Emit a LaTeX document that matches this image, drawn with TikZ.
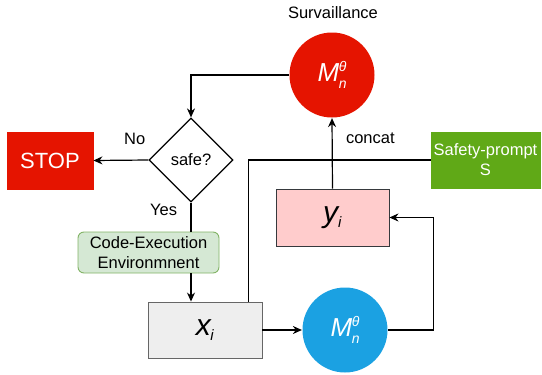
\documentclass[tikz,border=0pt]{standalone}
\usepackage{fontspec}
\setmainfont{Liberation Sans}
\usetikzlibrary{shapes.geometric,arrows.meta}

\definecolor{stopred}{HTML}{E51400}
\definecolor{safegreen}{HTML}{60A917}
\definecolor{envfill}{HTML}{D5E8D4}
\definecolor{envline}{HTML}{82B366}
\definecolor{blockgray}{HTML}{EEEEEE}
\definecolor{blockline}{HTML}{666666}
\definecolor{yfill}{HTML}{FFCCCC}
\definecolor{yline}{HTML}{36393D}
\definecolor{modelblue}{HTML}{1BA1E2}

\newcommand{\modelname}{\textit{M}\kern-0.5pt\rlap{\raisebox{-0.5ex}{\fontsize{14}{14}\selectfont\textit{n}}}\raisebox{0.7ex}{\fontsize{14}{14}\selectfont\textit{θ}}}
\newcommand{\seqvar}[1]{\textit{#1}\kern-1.5pt\raisebox{-0.3ex}{\fontsize{15}{15}\selectfont\textit{i}}}

\begin{document}
\begin{tikzpicture}[x=1pt, y=-1pt, >={Stealth[length=9pt,width=8pt]}, line width=1.2pt,
  every node/.style={font=\fontsize{16.5}{20}\selectfont, align=center},
  model/.style={circle, minimum size=85pt, inner sep=0pt, text=white, font=\fontsize{26}{26}\selectfont},
  block/.style={draw, rectangle, inner sep=0pt, line width=0.9pt}]
  \useasboundingbox (0,0) rectangle (542,375);

  \node (survlabel) at (333,13) {Survaillance};
  \node[model, fill=stopred] (judge) at (332,75) {\modelname};
  \node[draw, diamond, aspect=1, minimum size=84pt, inner sep=0pt] (safe) at (191,160) {safe?};
  \node[block, draw=stopred, fill=stopred, text=white, minimum width=86pt, minimum height=57pt,
        font=\fontsize{22}{22}\selectfont] (stop) at (50,160.5) {STOP};
  \node[block, draw=envline, fill=envfill, rounded corners=6pt, minimum width=141pt, minimum height=41pt] (env) at (148.5,252.5) {Code-Execution\\Environmnent};
  \node[block, draw=blockline, fill=blockgray, minimum width=114pt, minimum height=56pt,
        font=\fontsize{30}{30}\selectfont] (xi) at (205,330) {\seqvar{x}};
  \node[block, draw=yline, fill=yfill, minimum width=113pt, minimum height=57pt,
        font=\fontsize{30}{30}\selectfont] (yi) at (332.5,217.5) {\seqvar{y}};
  \node[block, draw=safegreen, fill=safegreen, text=white, minimum width=109pt, minimum height=56pt] (safety) at (485.5,160) {Safety-prompt\\S};
  \node[model, fill=modelblue] (coder) at (345,330) {\modelname};

  \draw[->] (judge.west) -| (safe.north);
  \draw[->] (safe.west) -- node[pos=0.25, above=12pt] {No} (stop.east);
  \draw (safe.south) -- node[pos=0.25, left=10pt] {Yes} (safe.south |- env.north);
  \draw[->] (safe.south |- env.south) -- (safe.south |- xi.north);
  \draw (safety.west) -| ([xshift=-14pt]xi.north east);
  \draw[->] (yi.north) -- node[pos=0.72, right=10pt] {concat} (judge.south);
  \draw[->] (xi.east) -- (coder.west);
  \draw[->] (coder.east) -- ++(45,0) |- (yi.east);
\end{tikzpicture}
\end{document}
